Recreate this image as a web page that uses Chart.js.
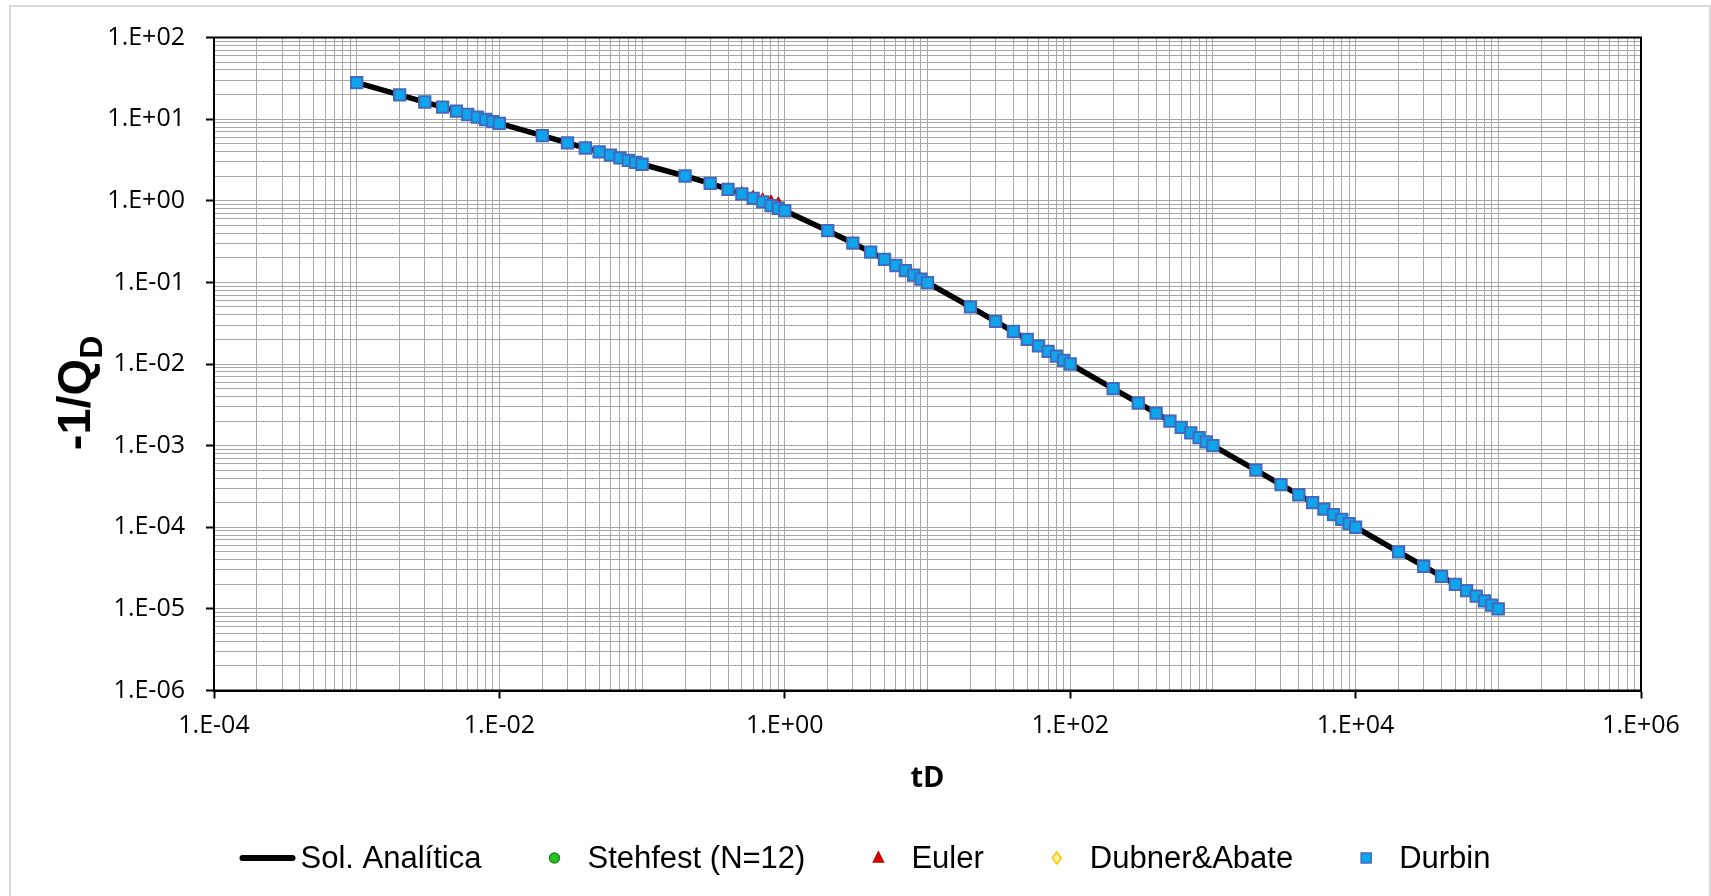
<!DOCTYPE html>
<html>
<head>
<meta charset="utf-8">
<script src="https://cdn.jsdelivr.net/npm/chart.js@4.4.1/dist/chart.umd.min.js"></script>
<style>
  html, body { margin: 0; padding: 0; background: #fff; }
  canvas { display: block; }
</style>
</head>
<body>
<canvas id="grafica" width="1711" height="896"></canvas>
<script>
// Tiempos adimensionales (eje X)
const tD = [
  0.001, 0.002, 0.003, 0.004, 0.005, 0.006, 0.007, 0.008, 0.009,
  0.01, 0.02, 0.03, 0.04, 0.05, 0.06, 0.07, 0.08, 0.09,
  0.1, 0.2, 0.3, 0.4, 0.5, 0.6, 0.7, 0.8, 0.9,
  1, 2, 3, 4, 5, 6, 7, 8, 9,
  10, 20, 30, 40, 50, 60, 70, 80, 90,
  100, 200, 300, 400, 500, 600, 700, 800, 900,
  1000, 2000, 3000, 4000, 5000, 6000, 7000, 8000, 9000,
  10000, 20000, 30000, 40000, 50000, 60000, 70000, 80000, 90000,
  100000
];

// -1/QD (solución analítica)
const solAnaliticaY = [
  28.0, 19.8, 16.2, 14.0, 12.5, 11.4, 10.6, 9.9, 9.3,
  8.86, 6.27, 5.12, 4.43, 3.96, 3.62, 3.35, 3.13, 2.95,
  2.80, 2.01, 1.63, 1.38, 1.21, 1.07, 0.97, 0.87, 0.81,
  0.754, 0.430, 0.303, 0.235, 0.191, 0.161, 0.139, 0.1225, 0.1094,
  0.0990, 0.0500, 0.0333, 0.0250, 0.0200, 0.0167, 0.0143, 0.0125, 0.0111,
  0.0100, 0.00500, 0.00333, 0.00250, 0.00200, 0.00167, 0.00143, 0.00125, 0.00111,
  1.00e-3, 5.00e-4, 3.33e-4, 2.50e-4, 2.00e-4, 1.67e-4, 1.43e-4, 1.25e-4, 1.11e-4,
  1.00e-4, 5.00e-5, 3.33e-5, 2.50e-5, 2.00e-5, 1.67e-5, 1.43e-5, 1.25e-5, 1.11e-5,
  1.00e-5
];

// Inversiones numéricas: Stehfest, Dubner&Abate y Durbin caen sobre la curva
const stehfestY = solAnaliticaY;
const dubnerY = solAnaliticaY;
const durbinY = solAnaliticaY;

// Euler se despega un poco hacia arriba entre 0.5 y 0.9
const eulerY = [
  28.0, 19.8, 16.2, 14.0, 12.5, 11.4, 10.6, 9.9, 9.3,
  8.86, 6.27, 5.12, 4.43, 3.96, 3.62, 3.35, 3.13, 2.95,
  2.80, 2.01, 1.63, 1.38, 1.25, 1.12, 1.04, 0.98, 0.93,
  0.754, 0.430, 0.303, 0.235, 0.191, 0.161, 0.139, 0.1225, 0.1094,
  0.0990, 0.0500, 0.0333, 0.0250, 0.0200, 0.0167, 0.0143, 0.0125, 0.0111,
  0.0100, 0.00500, 0.00333, 0.00250, 0.00200, 0.00167, 0.00143, 0.00125, 0.00111,
  1.00e-3, 5.00e-4, 3.33e-4, 2.50e-4, 2.00e-4, 1.67e-4, 1.43e-4, 1.25e-4, 1.11e-4,
  1.00e-4, 5.00e-5, 3.33e-5, 2.50e-5, 2.00e-5, 1.67e-5, 1.43e-5, 1.25e-5, 1.11e-5,
  1.00e-5
];

// Etiquetas de los ejes
const xTickValues = [1e-4, 1e-2, 1e0, 1e2, 1e4, 1e6];
const xTickLabels = ['1.E-04', '1.E-02', '1.E+00', '1.E+02', '1.E+04', '1.E+06'];
const yTickValues = [1e-6, 1e-5, 1e-4, 1e-3, 1e-2, 1e-1, 1e0, 1e1, 1e2];
const yTickLabels = ['1.E-06', '1.E-05', '1.E-04', '1.E-03', '1.E-02', '1.E-01', '1.E+00', '1.E+01', '1.E+02'];

const seriesNombres = ['Sol. Analítica', 'Stehfest (N=12)', 'Euler', 'Dubner&Abate', 'Durbin'];

const GRIS_GRID = '#a8a8a8';
const FUENTE_EJES = '"Open Sans", sans-serif';
const FUENTE_LEYENDA = '"Liberation Sans", Arial, sans-serif';

function puntos(ys) {
  return tD.map((t, i) => ({ x: t, y: ys[i] }));
}

// todas las líneas de rejilla log (1..9 x 10^n)
function rejillaLog(min, max) {
  const out = [];
  for (let e = Math.round(Math.log10(min)); e < Math.round(Math.log10(max)); e++) {
    for (let k = 1; k <= 9; k++) out.push(k * Math.pow(10, e));
  }
  out.push(max);
  return out;
}

function indiceEtiqueta(lista, v) {
  return lista.findIndex(t => Math.abs(Math.log10(t) - Math.log10(v)) < 1e-6);
}

const estilos = [
  { tipo: 'line' },
  { tipo: 'circle', fondo: '#27c427', borde: '#1b8a1b' },
  { tipo: 'triangle', fondo: '#e00000', borde: '#c00000' },
  { tipo: 'rectRot', fondo: '#fff59a', borde: '#ffc000' },
  { tipo: 'rect', fondo: '#0ea5ea', borde: '#4169c0' }
];

// Leyenda tipo Excel, título Y con subíndice y marcos
const decoracion = {
  id: 'decoracion',
  beforeDatasetsDraw(chart) {
    const { ctx, chartArea: a } = chart;
    ctx.save();
    ctx.strokeStyle = '#000';
    ctx.lineWidth = 2;
    ctx.strokeRect(a.left, a.top, a.right - a.left, a.bottom - a.top);
    ctx.restore();
  },
  afterDraw(chart) {
    const ctx = chart.ctx;
    ctx.save();

    // marco del área del gráfico
    ctx.strokeStyle = '#d9d9d9';
    ctx.lineWidth = 2;
    ctx.strokeRect(10, 6, 1700, 900);

    // título eje Y: -1/Q con subíndice D
    ctx.translate(90, 393);
    ctx.rotate(-Math.PI / 2);
    ctx.fillStyle = '#000';
    ctx.textBaseline = 'alphabetic';
    ctx.font = 'bold 47px ' + FUENTE_LEYENDA;
    const wMain = ctx.measureText('-1/Q').width;
    ctx.font = 'bold 32px ' + FUENTE_LEYENDA;
    const wSub = ctx.measureText('D').width;
    const x0 = -(wMain + wSub) / 2;
    ctx.font = 'bold 47px ' + FUENTE_LEYENDA;
    ctx.fillText('-1/Q', x0, 0);
    ctx.font = 'bold 32px ' + FUENTE_LEYENDA;
    ctx.fillText('D', x0 + wMain, 12);
    ctx.setTransform(1, 0, 0, 1, 0, 0);

    // leyenda
    const yLey = 858, marca = 56, hueco = 5, sep = 45;
    ctx.font = '31px ' + FUENTE_LEYENDA;
    const anchos = seriesNombres.map(n => ctx.measureText(n).width);
    const total = anchos.reduce((s, w) => s + w + marca + hueco, 0) + sep * (seriesNombres.length - 1);
    let x = 865 - total / 2;
    ctx.textBaseline = 'middle';
    seriesNombres.forEach((nombre, i) => {
      const cx = x + marca / 2;
      const e = estilos[i];
      ctx.lineWidth = 1.5;
      if (e.tipo === 'line') {
        ctx.strokeStyle = '#000';
        ctx.lineWidth = 6;
        ctx.lineCap = 'round';
        ctx.beginPath();
        ctx.moveTo(x + 3, yLey);
        ctx.lineTo(x + marca - 3, yLey);
        ctx.stroke();
      } else {
        ctx.fillStyle = e.fondo;
        ctx.strokeStyle = e.borde;
        ctx.beginPath();
        if (e.tipo === 'circle') {
          ctx.arc(cx, yLey, 5, 0, Math.PI * 2);
        } else if (e.tipo === 'triangle') {
          ctx.moveTo(cx, yLey - 6);
          ctx.lineTo(cx + 5, yLey + 4);
          ctx.lineTo(cx - 5, yLey + 4);
          ctx.closePath();
        } else if (e.tipo === 'rectRot') {
          ctx.moveTo(cx, yLey - 6);
          ctx.lineTo(cx + 4.5, yLey);
          ctx.lineTo(cx, yLey + 6);
          ctx.lineTo(cx - 4.5, yLey);
          ctx.closePath();
        } else {
          ctx.rect(cx - 5, yLey - 5, 10, 10);
        }
        ctx.fill();
        ctx.stroke();
      }
      ctx.fillStyle = '#000';
      ctx.fillText(nombre, x + marca + hueco, yLey + 1);
      x += marca + hueco + anchos[i] + sep;
    });
    ctx.restore();
  }
};

const datasets = [
  {
    label: seriesNombres[0], data: puntos(solAnaliticaY), showLine: true,
    borderColor: '#000', borderWidth: 5.5, pointRadius: 0,
    borderJoinStyle: 'round', borderCapStyle: 'round', order: 4
  },
  {
    label: seriesNombres[1], data: puntos(stehfestY), pointStyle: 'circle', pointRadius: 5,
    backgroundColor: estilos[1].fondo, borderColor: estilos[1].borde, borderWidth: 1, order: 3
  },
  {
    label: seriesNombres[2], data: puntos(eulerY), pointStyle: 'triangle', pointRadius: 6.5,
    backgroundColor: estilos[2].fondo, borderColor: estilos[2].borde, borderWidth: 1, order: 2
  },
  {
    label: seriesNombres[3], data: puntos(dubnerY), pointStyle: 'rectRot', pointRadius: 6,
    backgroundColor: estilos[3].fondo, borderColor: estilos[3].borde, borderWidth: 1.5, order: 1
  },
  {
    label: seriesNombres[4], data: puntos(durbinY), pointStyle: 'rect', pointRadius: 8,
    backgroundColor: estilos[4].fondo, borderColor: estilos[4].borde, borderWidth: 2, order: 0
  }
];

new Chart(document.getElementById('grafica'), {
  type: 'scatter',
  data: { datasets },
  options: {
    responsive: false,
    animation: false,
    events: [],
    layout: { padding: { left: 0, top: 37.5, right: 70, bottom: 95.5 } },
    plugins: {
      legend: { display: false },
      tooltip: { enabled: false }
    },
    scales: {
      x: {
        type: 'logarithmic',
        min: 1e-4,
        max: 1e6,
        afterBuildTicks: s => { s.ticks = rejillaLog(1e-4, 1e6).map(v => ({ value: v })); },
        afterFit: s => { s.height = 110; },
        grid: {
          color: GRIS_GRID,
          lineWidth: 1,
          tickLength: 8,
          tickColor: c => indiceEtiqueta(xTickValues, c.tick.value) >= 0 ? '#000' : 'rgba(0,0,0,0)',
          tickWidth: 2
        },
        border: { display: true, color: '#000', width: 2 },
        ticks: {
          autoSkip: false,
          maxRotation: 0,
          padding: 12,
          color: '#000',
          font: { family: FUENTE_EJES, size: 25 },
          callback: v => {
            const i = indiceEtiqueta(xTickValues, v);
            return i >= 0 ? xTickLabels[i] : '';
          }
        },
        title: {
          display: true,
          text: 'tD',
          color: '#000',
          font: { family: FUENTE_EJES, size: 29, weight: 'bold' },
          padding: { top: 0, bottom: 4 }
        }
      },
      y: {
        type: 'logarithmic',
        min: 1e-6,
        max: 1e2,
        afterBuildTicks: s => { s.ticks = rejillaLog(1e-6, 1e2).map(v => ({ value: v })); },
        afterFit: s => { s.width = 214; },
        grid: {
          color: GRIS_GRID,
          lineWidth: 1,
          tickLength: 8,
          tickColor: c => indiceEtiqueta(yTickValues, c.tick.value) >= 0 ? '#000' : 'rgba(0,0,0,0)',
          tickWidth: 2
        },
        border: { display: true, color: '#000', width: 2 },
        ticks: {
          autoSkip: false,
          padding: 21,
          color: '#000',
          font: { family: FUENTE_EJES, size: 25 },
          callback: v => {
            const i = indiceEtiqueta(yTickValues, v);
            return i >= 0 ? yTickLabels[i] : '';
          }
        }
      }
    }
  },
  plugins: [decoracion]
});
</script>
</body>
</html>
